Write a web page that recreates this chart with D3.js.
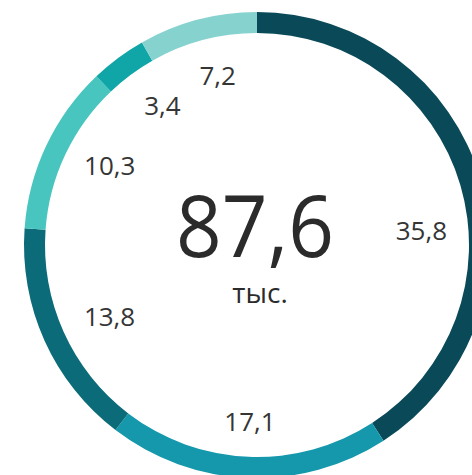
<!DOCTYPE html>
<html>
<head>
<meta charset="utf-8">
<script src="https://cdn.jsdelivr.net/npm/d3@7"></script>
<style>
  html, body { margin: 0; padding: 0; background: #ffffff; }
  svg { display: block; }
  text { font-family: "Open Sans", "Noto Sans", sans-serif; }
</style>
</head>
<body>
<svg id="chart" width="472" height="475"></svg>
<script>
const categories = ["A", "B", "C", "D", "E", "F"];
const values = [35.8, 17.1, 13.8, 10.3, 3.4, 7.2];
const valueLabels = ["35,8", "17,1", "13,8", "10,3", "3,4", "7,2"];
const totalLabel = "87,6";
const unitLabel = "тыс.";
const colors = ["#0a4a58", "#1598ac", "#0b6b78", "#48c5be", "#10a5a7", "#86d2cf"];

const W = 472, H = 475;
const cx = 257, cy = 245;
const outerR = 233, innerR = 212;

const svg = d3.select("#chart");
const g = svg.append("g").attr("transform", `translate(${cx},${cy})`);

const pie = d3.pie().sort(null).value(d => d.value);
const arcs = pie(categories.map((c, i) => ({ cat: c, value: values[i], label: valueLabels[i] })));

const arc = d3.arc().innerRadius(innerR).outerRadius(outerR);
g.selectAll("path.slice")
  .data(arcs)
  .join("path")
  .attr("class", "slice")
  .attr("d", arc)
  .attr("fill", (d, i) => colors[i]);

// label layout: centroid at a fixed radius, with a small angle nudge for the large slice
const labelR = [165, 177, 164, 167, 168, 174];
const angleNudge = [0.2, 0, -0.03, 0.05, 0.04, 0.03];
g.selectAll("text.lbl")
  .data(arcs)
  .join("text")
  .attr("class", "lbl")
  .attr("x", (d, i) => {
    const a = (d.startAngle + d.endAngle) / 2 + angleNudge[i];
    return labelR[i] * Math.sin(a);
  })
  .attr("y", (d, i) => {
    const a = (d.startAngle + d.endAngle) / 2 + angleNudge[i];
    return -labelR[i] * Math.cos(a);
  })
  .attr("dy", "0.35em")
  .attr("text-anchor", "middle")
  .attr("font-size", 26)
  .attr("fill", "#353535")
  .text(d => d.data.label);

g.append("text")
  .attr("x", -2)
  .attr("y", 12)
  .attr("text-anchor", "middle")
  .attr("font-size", 86)
  .attr("fill", "#2b2b2b")
  .attr("textLength", 158)
  .attr("lengthAdjust", "spacingAndGlyphs")
  .text(totalLabel);

g.append("text")
  .attr("x", 3)
  .attr("y", 58)
  .attr("text-anchor", "middle")
  .attr("font-size", 28)
  .attr("fill", "#2b2b2b")
  .text(unitLabel);
</script>
</body>
</html>
